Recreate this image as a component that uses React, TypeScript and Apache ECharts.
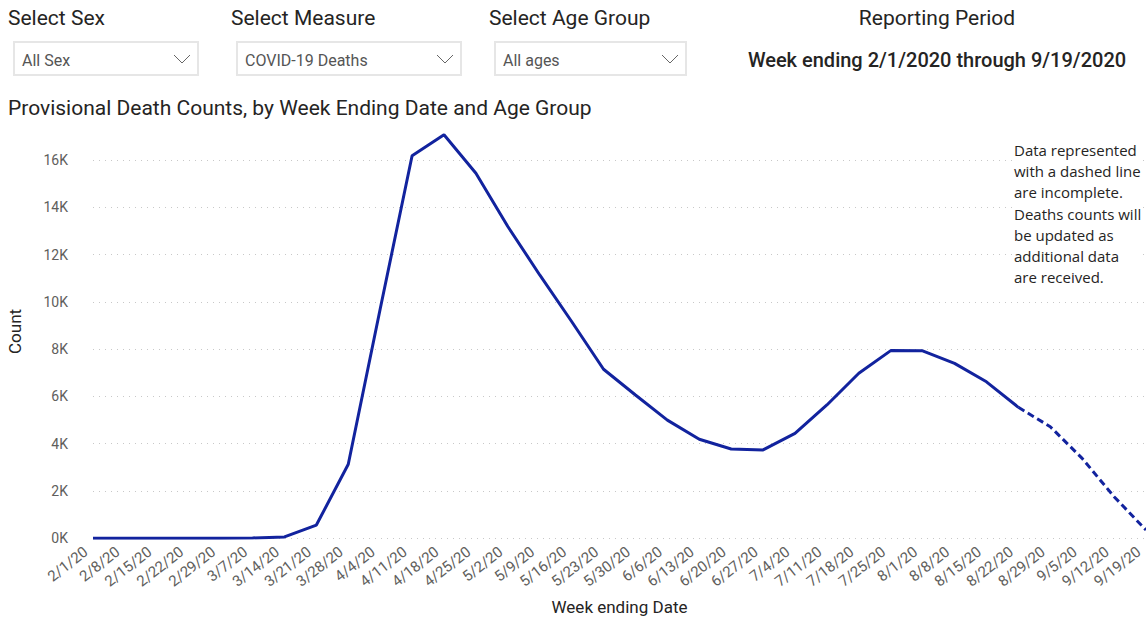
import React, { useEffect, useRef } from "react";
import * as echarts from "echarts";

const categories = [
  "2/1/20", "2/8/20", "2/15/20", "2/22/20", "2/29/20", "3/7/20", "3/14/20", "3/21/20",
  "3/28/20", "4/4/20", "4/11/20", "4/18/20", "4/25/20", "5/2/20", "5/9/20", "5/16/20",
  "5/23/20", "5/30/20", "6/6/20", "6/13/20", "6/20/20", "6/27/20", "7/4/20", "7/11/20",
  "7/18/20", "7/25/20", "8/1/20", "8/8/20", "8/15/20", "8/22/20", "8/29/20", "9/5/20",
  "9/12/20", "9/19/20",
];

const deaths = [
  0, 0, 0, 0, 5, 15, 60, 560,
  3130, 9700, 16180, 17070, 15440, 13190, 11140, 9170,
  7150, 6060, 5000, 4190, 3780, 3740, 4440, 5640,
  6980, 7940, 7930, 7400, 6620, 5540, 4720, 3380,
  1760, 350,
];

// First week whose counts are incomplete (drawn dashed from here on)
const incompleteFrom = "8/22/20";

const filterLabels = ["Select Sex", "Select Measure", "Select Age Group"];
const filterValues = ["All Sex", "COVID-19 Deaths", "All ages"];
const reportingTitle = "Reporting Period";
const reportingText = "Week ending 2/1/2020 through 9/19/2020";
const chartTitle = "Provisional Death Counts, by Week Ending Date and Age Group";
const noteText =
  "Data represented\nwith a dashed line\nare incomplete.\nDeaths counts will\nbe updated as\nadditional data\nare received.";

const LINE_COLOR = "#12239E";
const TEXT_DARK = "#252423";
const TEXT_GRAY = "#605E5C";
const HEAD_FONT = "Roboto, 'DejaVu Sans', sans-serif";
const BODY_FONT = "'Open Sans', 'Noto Sans', sans-serif";

export default function App() {
  const ref = useRef<HTMLDivElement>(null);

  useEffect(() => {
    if (!ref.current) return;
    const chart = echarts.init(ref.current, null, { renderer: "svg" });
    const cut = categories.indexOf(incompleteFrom);
    const solid = deaths.map((v, i) => (i <= cut ? v : "-"));
    const dashed = deaths.map((v, i) => (i >= cut ? v : "-"));

    const boxes = [
      { x: 14, w: 184, lx: 8 },
      { x: 237, w: 224, lx: 231 },
      { x: 495, w: 191, lx: 489 },
    ];

    const graphics: any[] = [];
    boxes.forEach((b, i) => {
      graphics.push({
        type: "text",
        x: b.lx,
        y: 18,
        style: {
          text: filterLabels[i],
          font: `21px ${HEAD_FONT}`,
          fill: TEXT_DARK,
          verticalAlign: "middle",
        },
      });
      graphics.push({
        type: "rect",
        shape: { x: b.x, y: 42, width: b.w, height: 33 },
        style: { fill: "#fff", stroke: "#E6E6E6", lineWidth: 2 },
      });
      graphics.push({
        type: "text",
        x: b.x + 8,
        y: 60,
        style: {
          text: filterValues[i],
          font: `16px ${HEAD_FONT}`,
          fill: "#555",
          verticalAlign: "middle",
        },
      });
      const cx = b.x + b.w - 16;
      graphics.push({
        type: "polyline",
        shape: { points: [[cx - 8, 55], [cx, 63], [cx + 8, 55]] },
        style: { stroke: "#666", lineWidth: 1, fill: null },
      });
    });
    graphics.push({
      type: "text",
      x: 937,
      y: 18,
      style: {
        text: reportingTitle,
        font: `21px ${HEAD_FONT}`,
        fill: TEXT_DARK,
        align: "center",
        verticalAlign: "middle",
      },
    });
    graphics.push({
      type: "text",
      x: 937,
      y: 60,
      style: {
        text: reportingText,
        font: `500 20px ${HEAD_FONT}`,
        fill: TEXT_DARK,
        align: "center",
        verticalAlign: "middle",
      },
    });
    graphics.push({
      type: "text",
      x: 8,
      y: 108,
      style: {
        text: chartTitle,
        font: `21px ${HEAD_FONT}`,
        fill: TEXT_DARK,
        verticalAlign: "middle",
      },
    });
    graphics.push({
      type: "text",
      x: 1014,
      y: 139.4,
      z: 10,
      style: {
        text: noteText,
        font: `15px ${BODY_FONT}`,
        lineHeight: 21.2,
        fill: TEXT_DARK,
        backgroundColor: "#fff",
      },
    });

    chart.setOption({
      animation: false,
      backgroundColor: "#fff",
      grid: {
        left: 93,
        right: 0,
        top: 124.6,
        bottom: 79.7,
        containLabel: false,
        outerBoundsMode: "none",
      },
      graphic: graphics,
      xAxis: {
        type: "category",
        data: categories,
        boundaryGap: false,
        name: "Week ending Date",
        nameLocation: "middle",
        nameGap: 60,
        nameTextStyle: { fontFamily: HEAD_FONT, fontSize: 17, color: TEXT_DARK },
        axisLine: { show: false },
        axisTick: { show: false },
        axisLabel: {
          rotate: 38,
          interval: 0,
          margin: 6,
          padding: [0, 9, 0, 0],
          fontFamily: HEAD_FONT,
          fontSize: 15,
          color: TEXT_GRAY,
        },
        splitLine: { show: false },
      },
      yAxis: {
        type: "value",
        min: 0,
        max: 17500,
        interval: 2000,
        name: "Count",
        nameLocation: "middle",
        nameGap: 70,
        nameTextStyle: { fontFamily: HEAD_FONT, fontSize: 17, color: TEXT_DARK },
        axisLine: { show: false },
        axisTick: { show: false },
        axisLabel: {
          margin: 25,
          showMaxLabel: false,
          fontFamily: HEAD_FONT,
          fontSize: 14,
          color: TEXT_GRAY,
          formatter: (v: number) => `${v / 1000}K`,
        },
        splitLine: {
          show: true,
          showMaxLine: false,
          lineStyle: { color: "#C8C8C8", type: [1, 5], width: 1 },
        },
      },
      series: [
        {
          type: "line",
          data: solid,
          symbol: "none",
          lineStyle: { color: LINE_COLOR, width: 3 },
          z: 3,
        },
        {
          type: "line",
          data: dashed,
          symbol: "none",
          lineStyle: { color: LINE_COLOR, width: 3, type: [7, 4] },
          z: 3,
        },
      ],
    });

    return () => chart.dispose();
  }, []);

  return (
    <div
      ref={ref}
      style={{ position: "fixed", left: 0, top: 0, width: 1146, height: 618 }}
    />
  );
}
